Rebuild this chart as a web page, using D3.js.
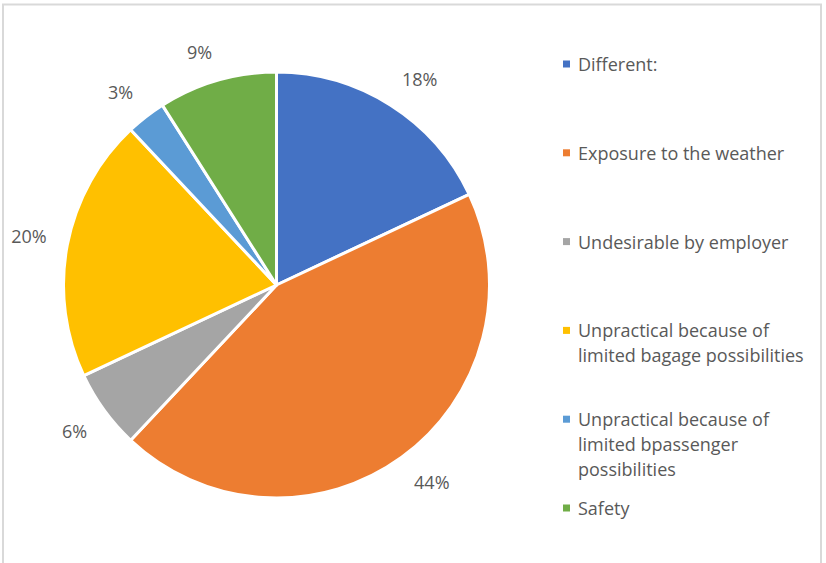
<!DOCTYPE html>
<html>
<head>
<meta charset="utf-8">
<script src="https://cdn.jsdelivr.net/npm/d3@7"></script>
<style>
  html, body { margin: 0; padding: 0; background: #ffffff; }
  svg { display: block; }
  text { font-family: "Open Sans", "Noto Sans", sans-serif; fill: #595959; }
</style>
</head>
<body>
<svg id="chart" width="826" height="563"></svg>
<script>
// Reasons given, share of respondents (%)
const categories = [
  "Different:",
  "Exposure to the weather",
  "Undesirable by employer",
  "Unpractical because of limited bagage possibilities",
  "Unpractical because of limited bpassenger possibilities",
  "Safety"
];
const values = [18, 44, 6, 20, 3, 9];
const sliceColors = ["#4472C4", "#ED7D31", "#A5A5A5", "#FFC000", "#5B9BD5", "#70AD47"];

const W = 826, H = 563;
const cx = 276.5, cy = 285, R = 213;

const svg = d3.select("#chart");

// chart-area frame
svg.append("rect")
  .attr("x", 3).attr("y", 4.5)
  .attr("width", 818).attr("height", H + 10)
  .attr("fill", "none")
  .attr("stroke", "#D9D9D9")
  .attr("stroke-width", 2);

const data = categories.map((c, i) => ({ category: c, value: values[i] }));

const color = d3.scaleOrdinal().domain(categories).range(sliceColors);

const pie = d3.pie().value(d => d.value).sort(null);
const arcs = pie(data);

const arc = d3.arc().innerRadius(0).outerRadius(R);

const g = svg.append("g").attr("transform", `translate(${cx},${cy})`);

g.selectAll("path.slice")
  .data(arcs)
  .join("path")
  .attr("class", "slice")
  .attr("d", arc)
  .attr("fill", d => color(d.data.category))
  .attr("stroke", "#ffffff")
  .attr("stroke-width", 3)
  .attr("stroke-linejoin", "round");

// percentage labels: the label box's inner corner sits just outside the rim,
// on the ray through the slice's middle angle
const fmt = d3.format(".0%");
const total = d3.sum(values);
const labelGap = 21;

g.selectAll("text.pct")
  .data(arcs)
  .join("text")
  .attr("class", "pct")
  .attr("text-anchor", "middle")
  .attr("dominant-baseline", "central")
  .style("font-size", "18px")
  .text(d => fmt(d.data.value / total))
  .each(function (d) {
    const a = (d.startAngle + d.endAngle) / 2;
    const ux = Math.sin(a), uy = -Math.cos(a);
    const bb = this.getBBox();
    const hw = bb.width / 2, hh = 8;
    const r = R + labelGap;
    const fx = Math.sign(ux) * Math.min(1, Math.abs(ux) / 0.3);
    const fy = Math.sign(uy) * Math.min(1, Math.abs(uy) / 0.3);
    d3.select(this).attr("transform",
      `translate(${r * ux + hw * fx},${r * uy + hh * fy})`);
  });

// legend
const legendY = d3.scalePoint().domain(categories).range([64, 508]);
const legendX = 563, textX = 578, maxTextW = 236, lineH = 25;

const legend = svg.append("g").attr("class", "legend");
const items = legend.selectAll("g.item")
  .data(categories)
  .join("g")
  .attr("class", "item")
  .attr("transform", c => `translate(0,${legendY(c)})`);

items.append("rect")
  .attr("x", legendX).attr("y", -3.5)
  .attr("width", 7).attr("height", 7)
  .attr("fill", c => color(c));

items.each(function (c) {
  const t = d3.select(this).append("text")
    .attr("x", textX)
    .attr("dominant-baseline", "central")
    .style("font-size", "18px");
  const words = c.split(" ");
  let line = [];
  let tspan = t.append("tspan").attr("x", textX).attr("dy", 0);
  words.forEach(w => {
    line.push(w);
    tspan.text(line.join(" "));
    if (tspan.node().getComputedTextLength() > maxTextW && line.length > 1) {
      line.pop();
      tspan.text(line.join(" "));
      line = [w];
      tspan = t.append("tspan").attr("x", textX).attr("dy", lineH).text(w);
    }
  });
});
</script>
</body>
</html>
